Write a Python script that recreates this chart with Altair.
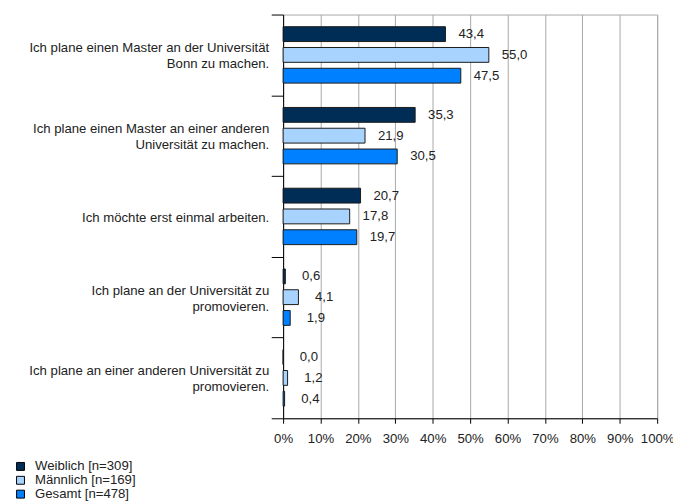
import altair as alt
import pandas as pd

# "|" separates the lines of a category label
categories = [
    "Ich plane einen Master an der Universität|Bonn zu machen.",
    "Ich plane einen Master an einer anderen|Universität zu machen.",
    "Ich möchte erst einmal arbeiten.",
    "Ich plane an der Universität zu|promovieren.",
    "Ich plane an einer anderen Universität zu|promovieren.",
]
series = ["Weiblich [n=309]", "Männlich [n=169]", "Gesamt [n=478]"]
weiblich = [43.4, 35.3, 20.7, 0.6, 0.0]
maennlich = [55.0, 21.9, 17.8, 4.1, 1.2]
gesamt = [47.5, 30.5, 19.7, 1.9, 0.4]
colors = ["#002D56", "#A8D3FF", "#0080FF"]
x_ticks = [0, 10, 20, 30, 40, 50, 60, 70, 80, 90, 100]

rows = []
for s, vals in zip(series, [weiblich, maennlich, gesamt]):
    for c, v in zip(categories, vals):
        rows.append({"category": c, "series": s, "value": v})
df = pd.DataFrame(rows)

# one row per label line; slot = which line of how many
line_rows = []
for c in categories:
    parts = c.split("|")
    for i, p in enumerate(parts):
        line_rows.append({"category": c, "line": p, "slot": f"{len(parts)}-{i}"})
lines_df = pd.DataFrame(line_rows)

FONT = "Liberation Sans"
FS = 13.3
LH = 16

y_enc = alt.Y(
    "category:N",
    sort=categories,
    scale=alt.Scale(paddingInner=0, paddingOuter=0),
    axis=alt.Axis(
        title=None,
        labels=False,
        tickBand="extent",
        tickSize=12,
        tickColor="black",
        domainColor="black",
        grid=False,
    ),
)
yoff = alt.YOffset(
    "series:N",
    sort=series,
    scale=alt.Scale(paddingInner=0.2857, paddingOuter=0.586),
)
x_enc = alt.X(
    "value:Q",
    scale=alt.Scale(domain=[0, 100], nice=False),
    axis=alt.Axis(
        title=None,
        values=x_ticks,
        labelExpr="datum.value + '%'",
        labelOverlap=False,
        labelFlush=False,
        labelFontSize=FS,
        labelColor="#222222",
        labelPadding=8,
        tickSize=5,
        tickColor="black",
        domainColor="black",
        grid=True,
        gridColor="#a8a8a8",
        gridWidth=1,
    ),
)

bars = alt.Chart(df).mark_bar(stroke="#1a1a1a", strokeWidth=1).encode(
    y=y_enc,
    yOffset=yoff,
    x=x_enc,
    color=alt.Color(
        "series:N",
        sort=series,
        scale=alt.Scale(domain=series, range=colors),
        legend=alt.Legend(
            title=None,
            orient="none",
            legendX=-272,
            legendY=450,
            symbolType="square",
            symbolSize=64,
            symbolStrokeColor="black",
            symbolStrokeWidth=1,
            symbolOpacity=1,
            labelFontSize=FS,
            labelColor="#222222",
            rowPadding=0,
            labelOffset=8,
        ),
    ),
)

labels = alt.Chart(df).transform_calculate(
    lbl="replace(format(datum.value, '.1f'), '.', ',')"
).mark_text(
    align="center", baseline="middle", dx=26, fontSize=FS, color="#222222", font=FONT
).encode(
    y=y_enc,
    yOffset=yoff,
    x=x_enc,
    text="lbl:N",
)

# category labels, one layer per line slot so that each block is centred on its band
cat_layers = []
for slot in sorted(lines_df["slot"].unique()):
    n, i = (int(t) for t in slot.split("-"))
    dy = (i - (n - 1) / 2) * LH + 1.5
    cat_layers.append(
        alt.Chart(lines_df)
        .transform_filter(alt.datum.slot == slot)
        .mark_text(
            align="right", baseline="middle", dy=dy, fontSize=FS,
            color="#222222", font=FONT,
        )
        .encode(y=y_enc, x=alt.value(-14), text="line:N")
    )

chart = (
    alt.layer(bars, labels, *cat_layers)
    .properties(
        width=378,
        height=408,
        autosize=alt.AutoSizeParams(type="none"),
        padding={"left": 278, "top": 4, "right": 16, "bottom": 84},
    )
    .configure(font=FONT)
    .configure_view(stroke="#a8a8a8", strokeWidth=1)
    .configure_axis(labelFont=FONT)
    .configure_legend(labelFont=FONT)
)

chart.save("out.html", embed_options={"renderer": "svg", "actions": False})
